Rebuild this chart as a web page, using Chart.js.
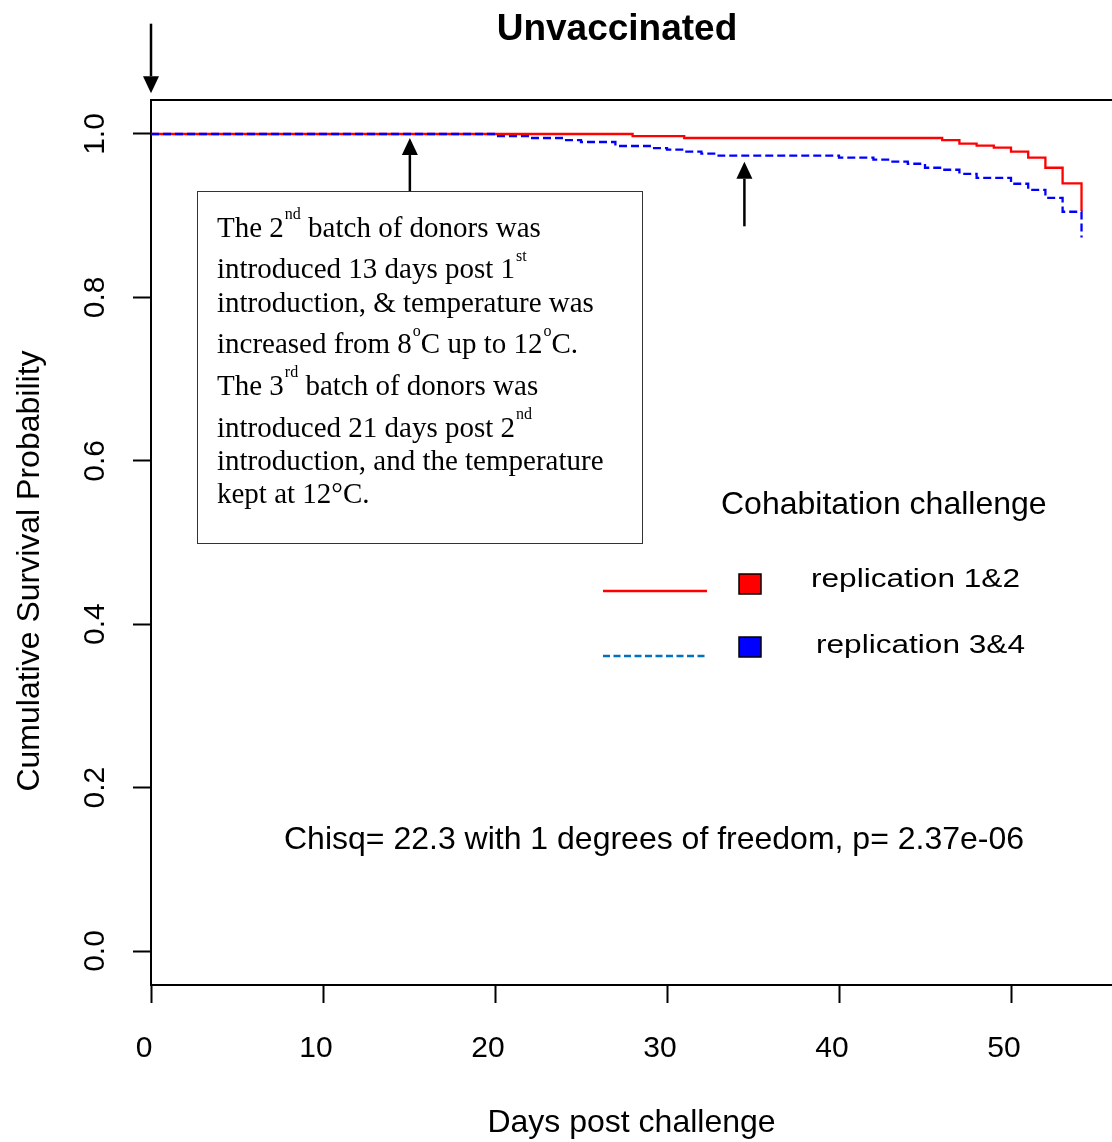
<!DOCTYPE html>
<html>
<head>
<meta charset="utf-8">
<title>Unvaccinated</title>
<script src="https://cdn.jsdelivr.net/npm/chart.js@4.4.1/dist/chart.umd.min.js"></script>
<style>
  html, body { margin: 0; padding: 0; background: #fff; overflow: hidden; }
  #wrap { width: 1112px; height: 1142px; }
</style>
</head>
<body>
<div id="wrap"><canvas id="km-chart" width="1112" height="1142"></canvas></div>
<script>
// Kaplan-Meier survival after cohabitation challenge (unvaccinated fish)
const redDays = [0, 28, 31, 46, 47, 48, 49, 50, 51, 52, 53, 54.1];
const redSurvival = [1, 0.9975, 0.9951, 0.9926, 0.9881, 0.9857, 0.9832, 0.9783, 0.9710, 0.9587, 0.9396, 0.9056];
const blueDays = [0, 20, 22, 24, 25, 27, 29, 30, 31, 32, 33, 40, 42, 43, 44, 45, 46, 47, 48, 50, 51, 52, 53, 54.1];
const blueSurvival = [1, 0.9975, 0.9951, 0.9926, 0.9902, 0.9853, 0.9828, 0.9808, 0.9783, 0.9759, 0.9734, 0.9710,
  0.9685, 0.9661, 0.9636, 0.9587, 0.9562, 0.9513, 0.9464, 0.9391, 0.9317, 0.9219, 0.9048, 0.8734];
const seriesLabels = ['replication 1&2', 'replication 3&4'];
const xTicks = [0, 10, 20, 30, 40, 50];
const yTicks = [0, 0.2, 0.4, 0.6, 0.8, 1.0];

// donor introductions: day, tail and tip of the arrow on the survival axis
const arrowDays = [0, 15.05, 34.5];
const arrowFrom = [1.135, 0.930, 0.887];
const arrowTo = [1.050, 0.995, 0.966];

const chartTitle = 'Unvaccinated';
const yTitle = 'Cumulative Survival Probability';
const xTitle = 'Days post challenge';
const legendTitle = 'Cohabitation challenge';
const chisqText = 'Chisq= 22.3 with 1 degrees of freedom, p= 2.37e-06';

// note box text, [text, superscript?]
const noteLines = [
  [['The 2'], ['nd', 1], [' batch of donors was']],
  [['introduced 13 days post 1'], ['st', 1]],
  [['introduction, & temperature was']],
  [['increased from 8'], ['o', 1], ['C up to 12'], ['o', 1], ['C.']],
  [['The 3'], ['rd', 1], [' batch of donors was']],
  [['introduced 21 days post 2'], ['nd', 1]],
  [['introduction, and the temperature']],
  [['kept at 12°C.']]
];

const sans = "'Liberation Sans', Arial, sans-serif";
const serif = "'Liberation Serif', 'Times New Roman', serif";

function toPoints(days, values) {
  return days.map((d, i) => ({ x: d, y: values[i] }));
}

// text squeezed or stretched to a given width
function fitText(ctx, text, x, y, width) {
  const w = ctx.measureText(text).width;
  ctx.save();
  ctx.translate(x, y);
  ctx.scale(width / w, 1);
  ctx.fillText(text, 0, 0);
  ctx.restore();
}

function drawArrow(ctx, x, y0, y1) {
  const dir = y1 > y0 ? 1 : -1;
  const head = 17;
  ctx.beginPath();
  ctx.moveTo(x, y0);
  ctx.lineTo(x, y1 - dir * head);
  ctx.stroke();
  ctx.beginPath();
  ctx.moveTo(x, y1);
  ctx.lineTo(x - 8, y1 - dir * head);
  ctx.lineTo(x + 8, y1 - dir * head);
  ctx.closePath();
  ctx.fill();
}

function drawNote(ctx) {
  ctx.strokeStyle = '#333';
  ctx.lineWidth = 1;
  ctx.strokeRect(197.5, 191.5, 445, 352);
  ctx.fillStyle = '#000';
  ctx.textAlign = 'left';
  ctx.textBaseline = 'alphabetic';
  let baseline = 236.5;
  noteLines.forEach((parts, i) => {
    const hasSup = parts.some(p => p[1]);
    if (i > 0) baseline += hasSup ? 41.7 : 33.3;
    let x = 217;
    parts.forEach(([text, sup]) => {
      ctx.font = sup ? `16px ${serif}` : `29px ${serif}`;
      ctx.fillText(text, x + (sup ? 1 : 0), sup ? baseline - 17.5 : baseline);
      x += ctx.measureText(text).width + (sup ? 1 : 0);
    });
  });
}

function drawLegend(ctx, datasets) {
  ctx.fillStyle = '#000';
  ctx.textAlign = 'left';
  ctx.textBaseline = 'alphabetic';
  ctx.font = `32px ${sans}`;
  ctx.fillText(legendTitle, 721, 514);

  // line samples
  ctx.lineWidth = 2.5;
  ctx.strokeStyle = datasets[0].borderColor;
  ctx.beginPath(); ctx.moveTo(603, 591); ctx.lineTo(707, 591); ctx.stroke();
  ctx.strokeStyle = '#0070c0';
  ctx.setLineDash([7, 3.5]);
  ctx.beginPath(); ctx.moveTo(603, 656); ctx.lineTo(707, 656); ctx.stroke();
  ctx.setLineDash([]);

  // colour boxes and labels
  const boxTop = [574, 637];
  const labelX = [811, 816];
  const labelY = [587, 653];
  datasets.forEach((ds, i) => {
    ctx.fillStyle = ds.borderColor;
    ctx.fillRect(739, boxTop[i], 22, 20);
    ctx.strokeStyle = '#000';
    ctx.lineWidth = 1.5;
    ctx.strokeRect(739, boxTop[i], 22, 20);
    ctx.fillStyle = '#000';
    ctx.font = `25px ${sans}`;
    fitText(ctx, ds.label, labelX[i], labelY[i], 209);
  });
}

const overlay = {
  id: 'overlay',
  afterDraw(chart) {
    const { ctx, chartArea: area, scales: { x, y } } = chart;
    ctx.save();

    // top edge of the plot frame
    ctx.strokeStyle = '#000';
    ctx.lineWidth = 2;
    ctx.beginPath();
    ctx.moveTo(area.left - 1, area.top);
    ctx.lineTo(area.right, area.top);
    ctx.stroke();

    // title
    ctx.fillStyle = '#000';
    ctx.textAlign = 'center';
    ctx.textBaseline = 'alphabetic';
    ctx.font = `bold 37px ${sans}`;
    ctx.fillText(chartTitle, 617, 40);

    // y axis title
    ctx.save();
    ctx.translate(38.5, 571);
    ctx.rotate(-Math.PI / 2);
    ctx.font = `32px ${sans}`;
    ctx.fillText(yTitle, 0, 0);
    ctx.restore();

    // arrows at donor introductions
    ctx.strokeStyle = '#000';
    ctx.fillStyle = '#000';
    ctx.lineWidth = 2.5;
    arrowDays.forEach((d, i) => {
      drawArrow(ctx, x.getPixelForValue(d), y.getPixelForValue(arrowFrom[i]), y.getPixelForValue(arrowTo[i]));
    });

    drawNote(ctx);
    drawLegend(ctx, chart.data.datasets);

    // log-rank test
    ctx.fillStyle = '#000';
    ctx.textAlign = 'left';
    ctx.font = `32px ${sans}`;
    ctx.fillText(chisqText, 284, 849);

    ctx.restore();
  }
};

const axisFont = { family: sans, size: 30 };

new Chart(document.getElementById('km-chart'), {
  type: 'line',
  data: {
    datasets: [
      {
        label: seriesLabels[0],
        data: toPoints(redDays, redSurvival),
        borderColor: '#ff0000',
        borderWidth: 2.3,
        stepped: true,
        pointRadius: 0,
        fill: false,
        order: 2
      },
      {
        label: seriesLabels[1],
        data: toPoints(blueDays, blueSurvival),
        borderColor: '#0000ff',
        borderWidth: 2.3,
        borderDash: [8, 4],
        stepped: true,
        pointRadius: 0,
        fill: false,
        order: 1
      }
    ]
  },
  options: {
    responsive: false,
    animation: false,
    devicePixelRatio: 1,
    layout: { padding: { top: 100, left: 0, right: 0, bottom: 0 } },
    plugins: {
      legend: { display: false },
      tooltip: { enabled: false },
      title: { display: false }
    },
    scales: {
      x: {
        type: 'linear',
        min: 0,
        max: 55.872,
        afterBuildTicks: s => { s.ticks = xTicks.map(v => ({ value: v })); },
        afterFit: s => { s.height = 157; },
        grid: { drawOnChartArea: false, drawTicks: true, tickLength: 18, tickColor: '#000', tickWidth: 2 },
        border: { display: true, color: '#000', width: 2 },
        ticks: {
          color: '#000',
          font: axisFont,
          padding: 28,
          labelOffset: -7,
          maxRotation: 0,
          autoSkip: false,
          callback: v => String(v)
        },
        title: {
          display: true,
          text: xTitle,
          color: '#000',
          font: { family: sans, size: 32 },
          padding: { top: 0, bottom: 0 }
        }
      },
      y: {
        type: 'linear',
        min: -0.0416,
        max: 1.0416,
        afterBuildTicks: s => { s.ticks = yTicks.map(v => ({ value: v })); },
        afterFit: s => { s.width = 151; },
        grid: { drawOnChartArea: false, drawTicks: true, tickLength: 18, tickColor: '#000', tickWidth: 2 },
        border: { display: true, color: '#000', width: 2 },
        ticks: {
          color: '#000',
          font: axisFont,
          padding: 16,
          minRotation: 90,
          maxRotation: 90,
          crossAlign: 'center',
          autoSkip: false,
          callback: v => Number(v).toFixed(1)
        }
      }
    }
  },
  plugins: [overlay]
});
</script>
</body>
</html>
